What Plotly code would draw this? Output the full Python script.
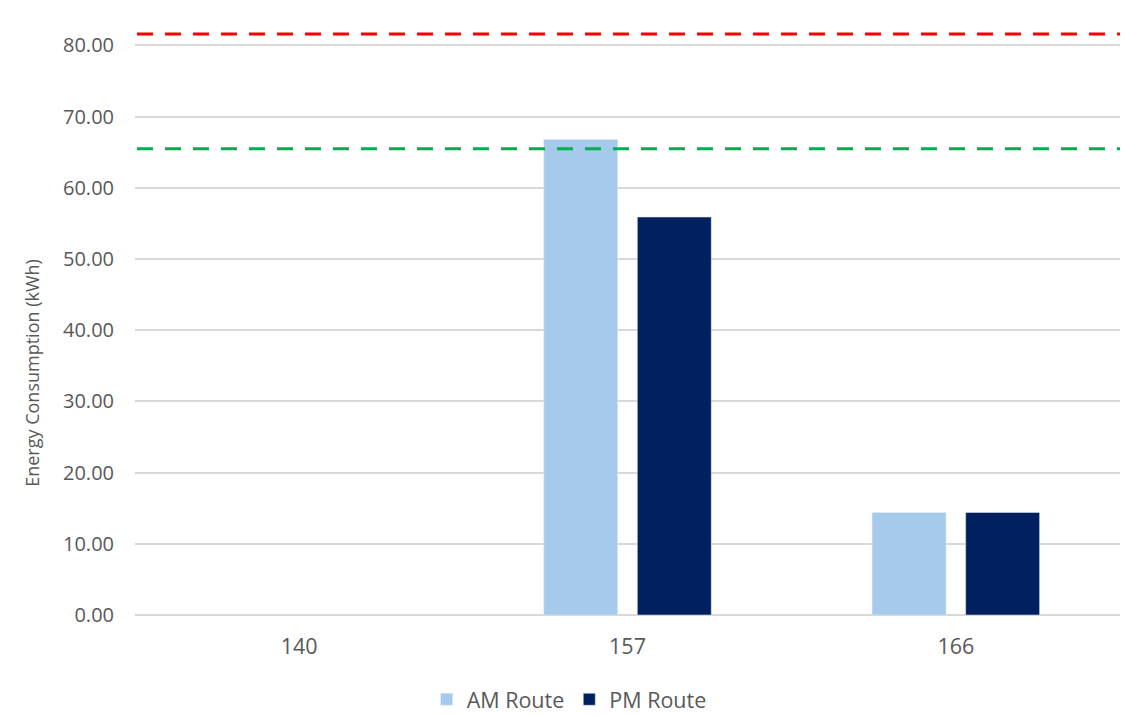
import plotly.graph_objects as go

# Route energy data (kWh)
routes = ["140", "157", "166"]
am_route = [None, 66.8, 14.4]
pm_route = [None, 55.9, 14.4]

# Reference thresholds (kWh)
upper_limit = 81.6
target_limit = 65.5

y_ticks = [0, 10, 20, 30, 40, 50, 60, 70, 80]

font_family = "Open Sans, sans-serif"
grey = "#595959"

fig = go.Figure()
fig.add_trace(go.Bar(name="AM Route", x=routes, y=am_route, marker_color="#A6CAEC"))
fig.add_trace(go.Bar(name="PM Route", x=routes, y=pm_route, marker_color="#002060"))

for level, colour in [(upper_limit, "#FF0000"), (target_limit, "#00B050")]:
    fig.add_shape(type="line", xref="paper", yref="y", x0=0.002, x1=1.0,
                  y0=level, y1=level, layer="above",
                  line=dict(color=colour, width=3, dash="16px,12px"))

# Y axis title, placed as a rotated annotation
fig.add_annotation(text="Energy Consumption (kWh)", textangle=-90,
                   xref="paper", yref="paper", x=-0.1046, y=0.405,
                   xanchor="center", yanchor="middle", showarrow=False,
                   font=dict(size=18, color=grey))

fig.update_layout(
    width=1127, height=715,
    margin=dict(l=135, r=7, t=17, b=100, autoexpand=False),
    paper_bgcolor="white", plot_bgcolor="white",
    font=dict(family=font_family, color=grey, size=20),
    barmode="group", bargap=0.43, bargroupgap=0.21,
    showlegend=True,
    legend=dict(orientation="h", xref="container", x=0.505, xanchor="center",
                yref="container", y=0.022, yanchor="middle",
                font=dict(size=21.5, color=grey), itemwidth=30),
    xaxis=dict(showgrid=False, showline=False, ticks="", ticklabelstandoff=16,
               tickfont=dict(size=21.5)),
    yaxis=dict(range=[0, 84], tickvals=y_ticks,
               ticktext=[f"{v:.2f}" for v in y_ticks],
               showgrid=True, gridcolor="#D9D9D9", gridwidth=1.5,
               zeroline=True, zerolinecolor="#D9D9D9", zerolinewidth=1.5,
               showline=False, ticks="", ticklabelstandoff=20),
)

fig.write_html("out.html")
